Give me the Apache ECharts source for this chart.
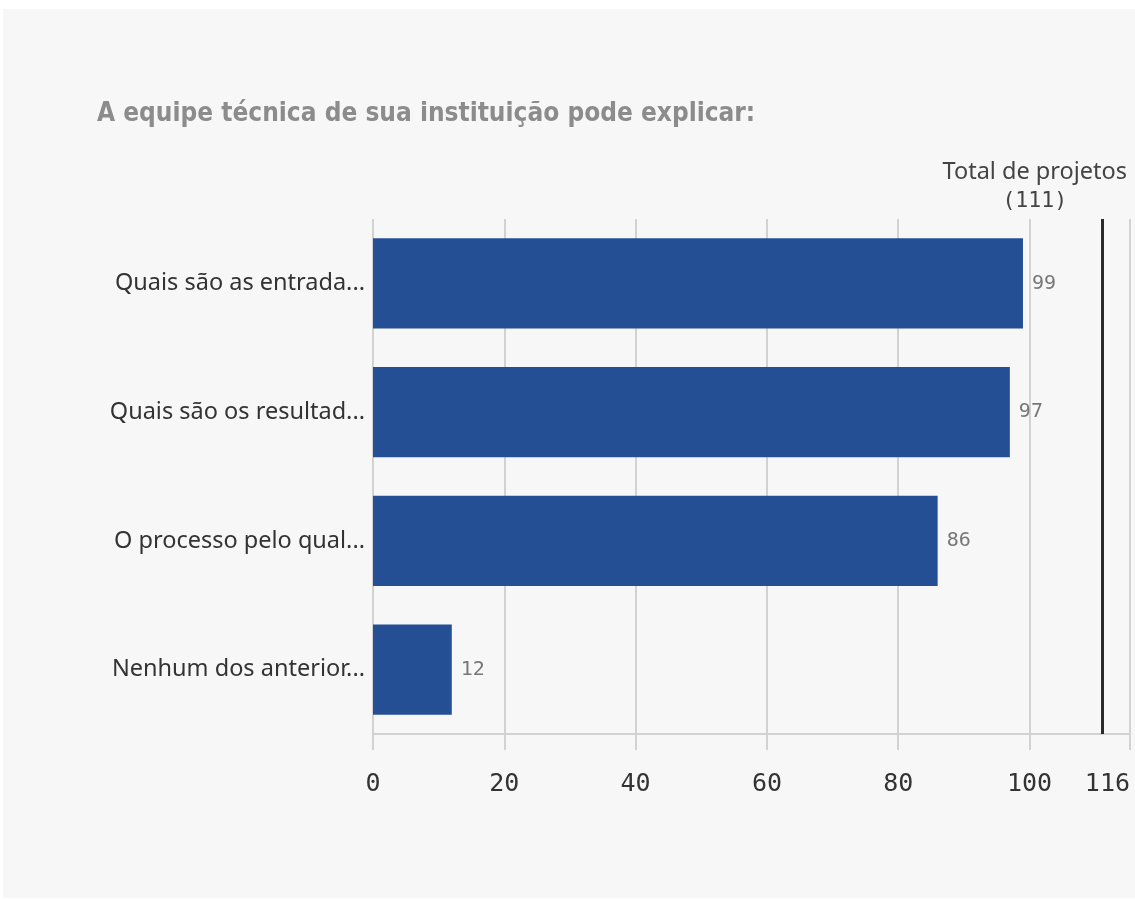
<!DOCTYPE html>
<html>
<head>
<meta charset="utf-8">
<script src="https://cdn.jsdelivr.net/npm/echarts@6/dist/echarts.min.js"></script>
<style>
  html, body { margin: 0; padding: 0; background: #ffffff; }
  #chart { position: absolute; left: 3px; top: 9px; width: 1132px; height: 889px; }
</style>
</head>
<body>
<div id="chart"></div>
<script>
// Survey answers and how many projects picked each one
const categories = [
  'Quais são as entrada...',
  'Quais são os resultad...',
  'O processo pelo qual...',
  'Nenhum dos anterior...'
];
const counts = [99, 97, 86, 12];

// Reference line: total number of projects
const totalProjects = 111;
const totalLabel = 'Total de projetos';

// Value axis: ticks every 20, last label shows the rounded axis end
const axisMax = 115.3;
const axisInterval = 20;
const maxTickLabel = '116';

const chart = echarts.init(document.getElementById('chart'), null, { renderer: 'canvas' });

chart.setOption({
  backgroundColor: '#f7f7f7',
  animation: false,
  title: {
    text: 'A equipe técnica de sua instituição pode explicar:',
    left: 89,
    top: 87,
    textStyle: {
      fontFamily: '"DejaVu Sans Condensed", "DejaVu Sans", sans-serif',
      fontWeight: 'bold',
      fontSize: 26,
      color: '#8c8c8c'
    }
  },
  grid: { left: 370, right: 5, top: 210, bottom: 164, containLabel: false, outerBoundsMode: 'none' },
  xAxis: {
    type: 'value',
    min: 0,
    max: axisMax,
    interval: axisInterval,
    axisLine: { show: true, lineStyle: { color: '#d2d2d2', width: 2 } },
    axisTick: { show: true, length: 16, lineStyle: { color: '#d2d2d2', width: 2 } },
    splitLine: { show: true, lineStyle: { color: '#d2d2d2', width: 2 } },
    axisLabel: {
      margin: 38,
      fontFamily: '"DejaVu Sans Mono", monospace',
      fontSize: 25,
      color: '#333333',
      showMaxLabel: true,
      alignMaxLabel: 'right',
      formatter: function (v) {
        return v >= axisMax ? maxTickLabel : String(v);
      }
    }
  },
  yAxis: {
    type: 'category',
    inverse: true,
    data: categories,
    axisLine: { show: false },
    axisTick: { show: false },
    axisLabel: {
      margin: 8,
      fontFamily: '"Noto Sans", sans-serif',
      fontSize: 23.5,
      color: '#333333'
    }
  },
  series: [{
    type: 'bar',
    data: counts,
    barCategoryGap: '30%',
    itemStyle: { color: '#254f94' },
    label: {
      show: true,
      position: 'right',
      distance: 9,
      fontFamily: '"DejaVu Sans Mono", monospace',
      fontSize: 20,
      color: '#777777'
    },
    markLine: {
      silent: true,
      symbol: 'none',
      lineStyle: { type: 'solid', color: '#2b2b2b', width: 3 },
      label: {
        show: true,
        position: 'start',
        distance: 3,
        padding: [0, 134, 0, 0],
        formatter: '{a|' + totalLabel + '}\n{b|({c})}',
        rich: {
          a: { fontFamily: '"Noto Sans", sans-serif', fontSize: 23.5, color: '#444444', lineHeight: 29, align: 'center' },
          b: { fontFamily: '"DejaVu Sans Mono", monospace', fontSize: 21.5, color: '#444444', lineHeight: 29, align: 'center' }
        }
      },
      data: [{ xAxis: totalProjects }]
    }
  }]
});
</script>
</body>
</html>
